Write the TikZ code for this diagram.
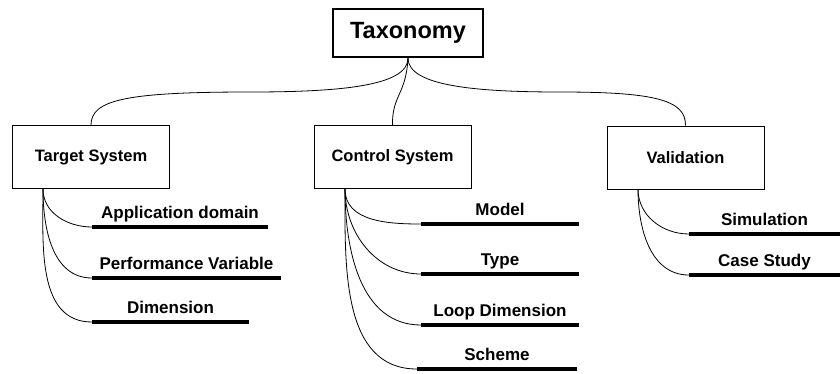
\documentclass[tikz,border=0pt]{standalone}
\usepackage{fontspec}
\setmainfont{Liberation Sans}
\usetikzlibrary{calc}
\begin{document}
\begin{tikzpicture}[x=1pt,y=-1pt,
  rootbox/.style={draw,line width=2.3pt,minimum width=150pt,minimum height=48pt,inner sep=0pt,font=\bfseries\fontsize{23.5}{28}\selectfont},
  catbox/.style={draw,line width=0.8pt,minimum width=157pt,minimum height=63pt,inner sep=0pt,font=\bfseries\fontsize{16.5}{20}\selectfont},
  leaf/.style={anchor=base,inner sep=0pt,font=\bfseries\fontsize{17}{20}\selectfont},
  bar/.style={line width=4pt},
  link/.style={line width=0.8pt}]
\useasboundingbox (0,0) rectangle (840,373);
% root
\node[rootbox] (tax) at (408,33) {Taxonomy};
% categories
\node[catbox] (ts) at (91,157) {Target System};
\node[catbox] (cs) at (392.5,157) {Control System};
\node[catbox] (va) at (685.5,157.5) {Validation};
\coordinate (tsb) at (43,189);
\coordinate (csb) at (345,189);
\coordinate (vab) at (638,189);
% root connectors
\draw[link] (tax.south) .. controls (408,86) and (340,92) .. (250,92)
            .. controls (125,92) and (91,100) .. (ts.north);
\draw[link] (tax.south) .. controls (408,86) and (476,92) .. (560,92)
            .. controls (655,92) and (686,100) .. (va.north);
\draw[link] (tax.south) .. controls (406,95) and (392,95) .. (cs.north);
% Target System leaves
\coordinate (a1) at (92,227); \coordinate (a2) at (268,227);
\coordinate (b1) at (92,278); \coordinate (b2) at (281,278);
\coordinate (c1) at (92,322); \coordinate (c2) at (249,322);
% Control System leaves
\coordinate (d1) at (421,224); \coordinate (d2) at (579,224);
\coordinate (e1) at (421,274); \coordinate (e2) at (579,274);
\coordinate (f1) at (421,325); \coordinate (f2) at (579,325);
\coordinate (g1) at (417,369); \coordinate (g2) at (577,369);
% Validation leaves
\coordinate (h1) at (689,234); \coordinate (h2) at (840,234);
\coordinate (i1) at (689,275); \coordinate (i2) at (840,275);
\foreach \p in {a,b,c,d,e,f,g,h,i}{
  \draw[bar] (\p1) -- (\p2);
}
\node[leaf] (la) at ($(a1)!0.5!(a2)+(0,-9)$) {Application domain};
\node[leaf] (lb) at ($(b1)!0.5!(b2)+(0,-9)$) {Performance Variable};
\node[leaf] (lc) at ($(c1)!0.5!(c2)+(0,-9)$) {Dimension};
\node[leaf] (ld) at ($(d1)!0.5!(d2)+(0,-9)$) {Model};
\node[leaf] (le) at ($(e1)!0.5!(e2)+(0,-9)$) {Type};
\node[leaf] (lf) at ($(f1)!0.5!(f2)+(0,-9)$) {Loop Dimension};
\node[leaf] (lg) at ($(g1)!0.5!(g2)+(0,-9)$) {Scheme};
\node[leaf] (lh) at ($(h1)!0.5!(h2)+(0,-9)$) {Simulation};
\node[leaf] (li) at ($(i1)!0.5!(i2)+(0,-9)$) {Case Study};
% leaf connectors
\foreach \p in {a,b,c}{\draw[link] (tsb) to[out=-90,in=180] (\p1);}
\foreach \p in {d,e,f,g}{\draw[link] (csb) to[out=-90,in=180] (\p1);}
\foreach \p in {h,i}{\draw[link] (vab) to[out=-90,in=180] (\p1);}
\end{tikzpicture}
\end{document}
